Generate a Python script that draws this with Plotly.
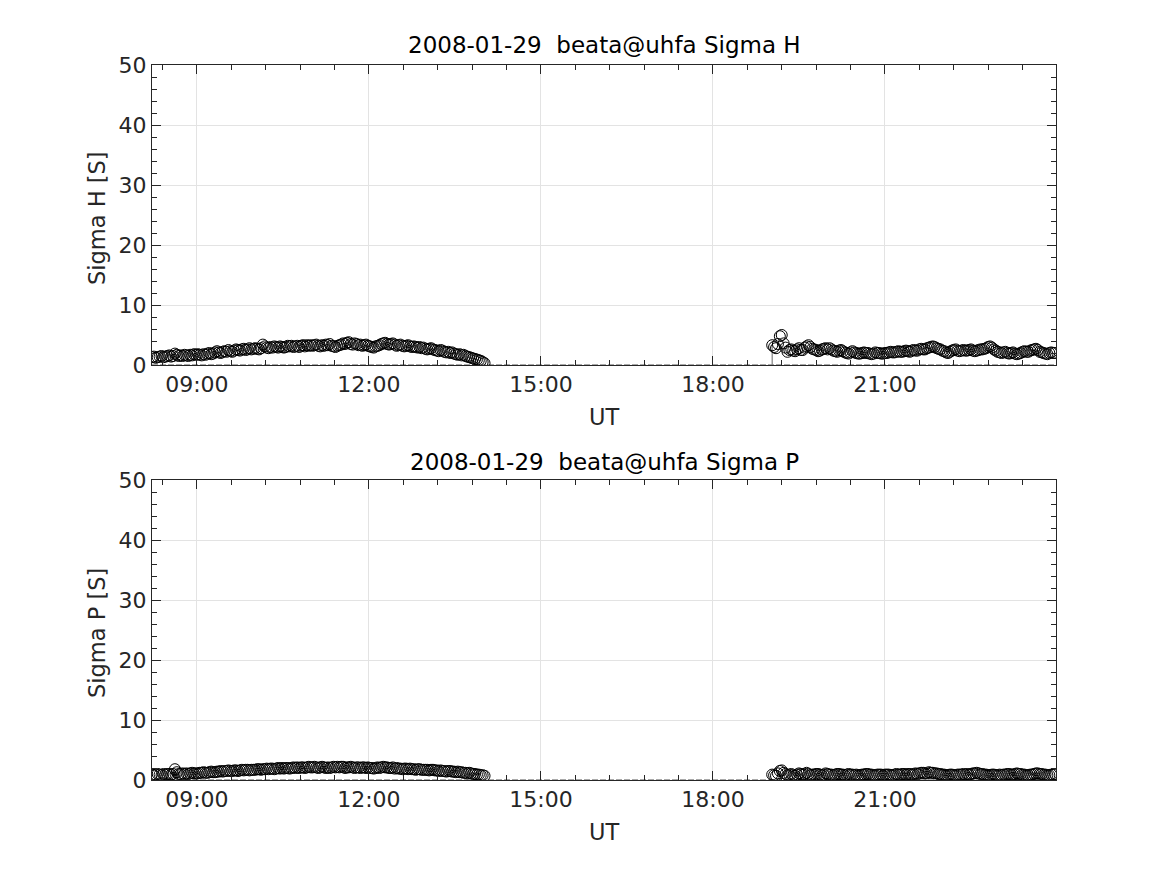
import pandas as pd
import plotly.graph_objects as go

# ---- data ----
STEP_MIN = 2
seg1_start = "2008-01-29 08:13"
seg2_start = "2008-01-29 19:02"

sigma_h_seg1 = [
    1.3, 1.4, 1.2, 1.3, 1.4, 1.5, 1.3, 1.4, 1.5, 1.6, 1.4, 1.5, 1.9, 1.7, 1.5, 1.6, 1.5, 1.7, 1.6, 1.5, 1.7, 1.6, 1.8, 1.7,
    1.8, 1.7, 1.6, 1.8, 1.7, 1.9, 2.0, 1.8, 1.9, 2.1, 2.3, 2.1, 2.0, 2.2, 2.3, 2.2, 2.5, 2.3, 2.2, 2.4, 2.6, 2.5, 2.4, 2.6, 2.7, 2.5, 2.6, 2.8, 2.6, 2.7,
    2.8, 2.7, 2.6, 2.8, 3.4, 3.1, 2.9, 2.8, 3.0, 2.9, 3.1, 3.0, 2.9, 3.1, 3.0, 2.9, 3.0, 3.2, 3.1, 3.2, 3.0, 3.1, 3.2, 3.0, 3.2, 3.3, 3.1, 3.3, 3.2, 3.3,
    3.2, 3.3, 3.4, 3.2, 3.1, 3.3, 3.2, 3.4, 3.3, 3.5, 3.2, 3.1, 3.0, 3.2, 3.3, 3.4, 3.6, 3.5, 3.7, 3.8, 3.5, 3.4, 3.6, 3.5, 3.3, 3.4, 3.2, 3.3, 3.4, 3.2,
    3.1, 3.0, 2.9, 3.1, 3.2, 3.3, 3.5, 3.6, 3.7, 3.5, 3.4, 3.5, 3.6, 3.4, 3.2, 3.3, 3.4, 3.2, 3.1, 3.2, 3.3, 3.1, 3.0, 3.1, 3.0, 2.9, 3.0, 2.8, 2.9, 2.7,
    2.6, 2.7, 2.8, 2.6, 2.5, 2.4, 2.3, 2.5, 2.4, 2.2, 2.1, 2.2, 2.0, 2.1, 1.9, 1.8, 1.7, 1.8, 1.6, 1.7, 1.5, 1.4, 1.3, 1.2, 1.1, 1.0, 0.9, 0.8, 0.7, 0.5, 0.3]
sigma_h_seg2 = [
    3.3, 3.0, 2.8, 3.5, 4.8, 5.0, 3.6, 2.9, 2.2, 2.5, 2.6, 2.4, 2.3, 2.6, 2.8, 2.5, 2.5, 2.9, 3.1, 3.3, 3.0, 2.7, 2.6, 2.5, 2.3, 2.4, 2.6, 2.7, 2.8, 2.6,
    2.8, 2.6, 2.4, 2.3, 2.2, 2.4, 2.5, 2.3, 2.1, 2.0, 1.9, 2.1, 2.3, 2.1, 2.0, 1.9, 1.9, 2.0, 2.1, 2.0, 2.0, 1.9, 1.8, 1.9, 2.1, 2.0, 2.0, 1.9, 1.9, 2.0,
    2.0, 2.1, 2.2, 2.1, 2.1, 2.2, 2.3, 2.2, 2.2, 2.3, 2.4, 2.3, 2.2, 2.4, 2.5, 2.4, 2.4, 2.6, 2.7, 2.6, 2.6, 2.8, 2.9, 3.0, 3.1, 3.0, 2.8, 2.7, 2.6, 2.4,
    2.3, 2.1, 2.0, 2.2, 2.4, 2.5, 2.6, 2.4, 2.3, 2.4, 2.5, 2.4, 2.4, 2.5, 2.6, 2.4, 2.3, 2.4, 2.5, 2.6, 2.6, 2.7, 2.8, 3.0, 3.1, 2.9, 2.6, 2.4, 2.2, 2.1,
    2.0, 2.1, 2.2, 2.0, 1.9, 2.0, 2.1, 1.9, 1.8, 1.9, 2.0, 2.2, 2.3, 2.2, 2.2, 2.4, 2.5, 2.6, 2.7, 2.5, 2.2, 2.1, 2.0, 1.9, 1.8, 2.0, 2.1, 2.0, 2.0]
sigma_p_seg1 = [
    0.9, 0.8, 0.9, 1.0, 0.9, 0.8, 1.0, 0.9, 1.0, 1.0, 0.9, 1.0, 1.8, 1.3, 1.0, 1.0, 1.1, 1.0, 1.1, 1.0, 1.1, 1.2, 1.1, 1.1,
    1.1, 1.2, 1.2, 1.3, 1.2, 1.2, 1.3, 1.4, 1.3, 1.3, 1.4, 1.4, 1.5, 1.4, 1.5, 1.5, 1.6, 1.5, 1.5, 1.6, 1.6, 1.5, 1.6, 1.7, 1.6, 1.7, 1.7, 1.6, 1.7, 1.7,
    1.7, 1.8, 1.8, 1.7, 1.8, 1.8, 1.9, 1.8, 1.9, 1.9, 1.8, 1.9, 2.0, 1.9, 2.0, 1.9, 2.0, 2.0, 1.9, 2.0, 2.1, 2.0, 2.1, 2.0, 2.1, 2.1, 2.0, 2.1, 2.2, 2.1,
    2.1, 2.2, 2.1, 2.0, 2.1, 2.2, 2.1, 2.0, 2.1, 2.0, 2.1, 2.2, 2.1, 2.2, 2.1, 2.2, 2.2, 2.0, 2.1, 2.1, 2.2, 2.1, 2.0, 2.1, 2.1, 2.0, 2.1, 2.1, 2.0, 2.1,
    2.0, 2.0, 1.9, 2.0, 2.1, 2.0, 2.1, 2.2, 2.1, 2.1, 2.0, 2.0, 2.1, 1.9, 2.0, 1.9, 1.9, 1.8, 1.9, 1.9, 1.8, 1.9, 1.8, 1.8, 1.7, 1.8, 1.8, 1.7, 1.7, 1.7,
    1.7, 1.6, 1.7, 1.7, 1.6, 1.6, 1.5, 1.6, 1.5, 1.5, 1.4, 1.5, 1.5, 1.4, 1.4, 1.3, 1.4, 1.3, 1.3, 1.2, 1.2, 1.1, 1.2, 1.1, 1.0, 1.0, 0.9, 0.9, 0.8, 0.8, 0.7]
sigma_p_seg2 = [
    0.9, 0.8, 0.7, 1.1, 1.5, 1.6, 1.2, 1.0, 0.8, 0.9, 1.0, 0.8, 0.7, 0.9, 1.1, 1.0, 0.9, 1.0, 1.2, 1.0, 0.8, 0.9, 0.9, 1.0, 1.0, 0.9, 0.8, 0.9, 1.1, 1.0,
    0.9, 0.9, 0.8, 0.9, 1.0, 1.0, 0.9, 0.9, 0.8, 0.9, 1.0, 0.9, 0.9, 0.8, 0.9, 0.8, 0.8, 0.9, 0.9, 1.0, 1.0, 0.9, 0.9, 0.8, 0.8, 0.9, 0.9, 0.9, 0.8, 0.9,
    0.9, 0.9, 0.8, 0.8, 0.9, 1.0, 0.9, 0.9, 1.0, 1.0, 0.9, 1.0, 1.0, 0.9, 1.0, 1.1, 1.0, 1.1, 1.2, 1.2, 1.1, 1.1, 1.3, 1.2, 1.2, 1.1, 1.1, 1.0, 1.0, 0.9,
    0.9, 0.8, 0.8, 0.9, 0.9, 0.8, 0.8, 0.9, 0.9, 0.9, 1.0, 0.9, 1.0, 0.9, 1.0, 1.1, 1.1, 1.2, 1.1, 1.0, 1.0, 0.9, 0.9, 0.8, 0.8, 0.9, 0.9, 0.8, 0.8, 0.9,
    0.8, 0.9, 0.9, 1.0, 1.0, 0.9, 0.9, 1.0, 1.1, 1.0, 1.0, 0.9, 0.9, 0.8, 0.8, 0.9, 0.9, 1.0, 1.1, 1.1, 1.0, 1.0, 0.9, 0.9, 0.8, 0.8, 0.9, 0.9, 1.0]

x_range = ["2008-01-29 08:13", "2008-01-29 23:59"]
titles = ["2008-01-29  beata@uhfa Sigma H", "2008-01-29  beata@uhfa Sigma P"]
ylabels = ["Sigma H [S]", "Sigma P [S]"]
xlabel = "UT"

INK = "#262626"
GRID = "#e3e3e3"
FONT = "DejaVu Sans"

fig = go.Figure()

panels = [("x", "y", sigma_h_seg1, sigma_h_seg2), ("x2", "y2", sigma_p_seg1, sigma_p_seg2)]
for k, (xa, ya, s1, s2) in enumerate(panels):
    t1 = pd.date_range(seg1_start, periods=len(s1), freq=f"{STEP_MIN}min")
    t2 = pd.date_range(seg2_start, periods=len(s2), freq=f"{STEP_MIN}min")
    # dashed zero baseline
    fig.add_trace(go.Scatter(x=x_range, y=[0, 0], mode="lines", xaxis=xa, yaxis=ya,
                             line=dict(color="#555555", width=1.2, dash="6px,2px"),
                             showlegend=False, hoverinfo="skip"))
    if k == 0:
        fig.add_trace(go.Scatter(x=[t2[0], t2[0]], y=[0, s2[0]], mode="lines",
                                 xaxis=xa, yaxis=ya,
                                 line=dict(color="#808080", width=1.2),
                                 showlegend=False, hoverinfo="skip"))
    for t, s in ((t1, s1), (t2, s2)):
        fig.add_trace(go.Scatter(x=t, y=s, mode="markers", xaxis=xa, yaxis=ya,
                                 marker=dict(symbol="circle-open", size=11, color="black",
                                             line=dict(width=1.0, color="black")),
                                 showlegend=False))

TICKFONT = dict(family=FONT, size=22, color=INK)
xcommon = dict(type="date", range=x_range, tickformat="%H:%M",
               dtick=3 * 3600000, tick0="2008-01-29 00:00",
               ticks="inside", ticklen=9, tickwidth=1, tickcolor=INK,
               showline=True, linecolor=INK, linewidth=1, mirror="allticks",
               showgrid=True, gridcolor=GRID, gridwidth=1, zeroline=False,
               minor=dict(dtick=36 * 60000, tick0="2008-01-29 09:00", ticks="inside",
                          ticklen=5, tickwidth=1, tickcolor=INK, showgrid=False),
               tickfont=TICKFONT)
ycommon = dict(range=[0, 50], dtick=10, tick0=0,
               ticks="inside", ticklen=9, tickwidth=1, tickcolor=INK,
               showline=True, linecolor=INK, linewidth=1, mirror="allticks",
               showgrid=True, gridcolor=GRID, gridwidth=1, zeroline=False,
               minor=dict(dtick=2, ticks="inside", ticklen=5, tickwidth=1,
                          tickcolor=INK, showgrid=False),
               tickfont=TICKFONT)

# plot areas: top y 65..365, bottom y 480..780 (page px), x 152..1056
top_dom = [(780 - 365) / 715, 1.0]
bot_dom = [0.0, (780 - 480) / 715]

fig.update_layout(
    width=1159, height=867,
    margin=dict(l=144, r=111, t=57, b=95),
    paper_bgcolor="white", plot_bgcolor="white",
    xaxis=dict(xcommon, anchor="y"),
    yaxis=dict(ycommon, anchor="x", domain=top_dom),
    xaxis2=dict(xcommon, anchor="y2"),
    yaxis2=dict(ycommon, anchor="x2", domain=bot_dom),
    font=dict(family=FONT, color=INK),
)

def py(pix):
    return (780 - pix) / 715

def px(pix):
    return (pix - 152) / 904

ann = []
for title, yt in zip(titles, [45, 462]):
    ann.append(dict(text=title, x=0.5, y=py(yt), xref="paper", yref="paper",
                    showarrow=False, xanchor="center", yanchor="middle",
                    font=dict(family=FONT, size=23, color="black")))
for yl, yc in zip(ylabels, [218, 633]):
    ann.append(dict(text=yl, x=px(97), y=py(yc), xref="paper", yref="paper",
                    showarrow=False, xanchor="center", yanchor="middle", textangle=-90,
                    font=dict(family=FONT, size=22.5, color=INK)))
for yc in [417, 832]:
    ann.append(dict(text=xlabel, x=0.5, y=py(yc), xref="paper", yref="paper",
                    showarrow=False, xanchor="center", yanchor="middle",
                    font=dict(family=FONT, size=22.5, color=INK)))
fig.update_layout(annotations=ann)

fig.write_html("out.html")
